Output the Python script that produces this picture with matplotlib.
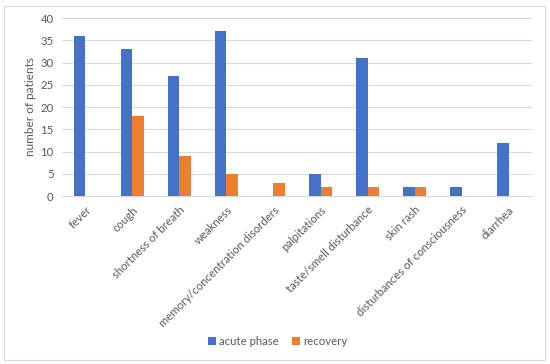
import matplotlib.pyplot as plt
import numpy as np
from matplotlib.patches import Rectangle

categories = ['fever', 'cough', 'shortness of breath', 'weakness',
              'memory/concentration disorders', 'palpitations',
              'taste/smell disturbance', 'skin rash',
              'disturbances of consciousness', 'diarrhea']
acute = [36, 33, 27, 37, 0, 5, 31, 2, 2, 12]
recovery = [0, 18, 9, 5, 3, 2, 2, 2, 0, 0]

plt.rcParams['font.family'] = ['Lato', 'DejaVu Sans']
txt = '#595959'
fs = 8.2

fig = plt.figure(figsize=(5.5, 3.64), dpi=100)
ax = fig.add_axes([0.1127, 0.4615, 0.8546, 0.489])

x = np.arange(len(categories))
w = 0.255
ax.bar(x - w/2, acute, w, color='#4472C4', label='acute phase', zorder=3)
ax.bar(x + w/2, recovery, w, color='#ED7D31', label='recovery', zorder=3)

ax.set_xlim(-0.5, len(categories) - 0.5)
ax.set_ylim(0, 40)
ax.set_yticks(range(0, 41, 5))
ax.yaxis.grid(True, color='#D9D9D9', linewidth=0.8, zorder=0)
ax.set_xticks(x)
ax.set_xticklabels(categories, rotation=45, ha='right', rotation_mode='anchor',
                   fontsize=fs, color=txt)
ax.tick_params(axis='both', length=0, labelsize=fs, colors=txt)
ax.tick_params(axis='x', pad=6)
ax.tick_params(axis='y', pad=6)
for s in ['top', 'right', 'left']:
    ax.spines[s].set_visible(False)
ax.spines['bottom'].set_color('#D9D9D9')
ax.set_ylabel('number of patients', fontsize=fs + 0.3, color=txt, labelpad=3)

fig.legend(loc='center', bbox_to_anchor=(0.505, 0.063), ncol=2, frameon=False,
           fontsize=fs, labelcolor=txt, handlelength=0.7, handleheight=0.7,
           handletextpad=0.3, columnspacing=1.2)

fig.patches.append(Rectangle((4/550, 4/364), 541/550, 354/364, transform=fig.transFigure,
                             fill=False, edgecolor='#D9D9D9', linewidth=0.8))

fig.savefig('out.png', dpi=100)
